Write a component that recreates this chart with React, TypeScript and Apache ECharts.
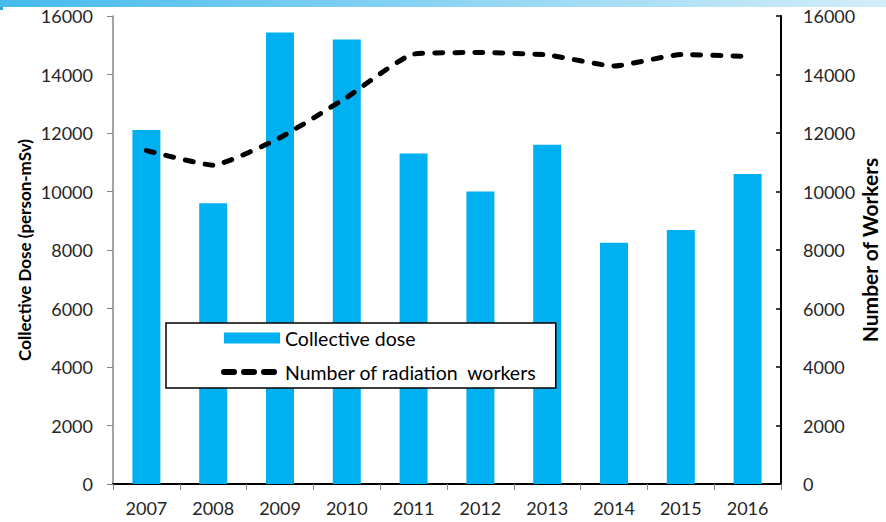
import React, { useEffect, useRef } from "react";
import * as echarts from "echarts";

const years = ["2007", "2008", "2009", "2010", "2011", "2012", "2013", "2014", "2015", "2016"];
const collectiveDose = [12100, 9600, 15440, 15200, 11300, 10000, 11600, 8250, 8680, 10600];
const radiationWorkers = [11400, 10900, 11840, 13220, 14700, 14750, 14670, 14290, 14680, 14620];
const doseName = "Collective dose";
const workersName = "Number of radiation  workers";
const FONT = "Lato";

export default function App() {
  const ref = useRef<HTMLDivElement>(null);
  useEffect(() => {
    if (!ref.current) return;
    const chart = echarts.init(ref.current, null, { renderer: "svg" });
    const labelStyle = { color: "#262626", fontSize: 18, fontFamily: FONT };
    const plain = (v: number) => String(v);
    chart.setOption({
      animation: false,
      backgroundColor: "#ffffff",
      textStyle: { fontFamily: FONT },
      grid: { left: 113, right: 105, top: 16, bottom: 38, containLabel: false, outerBoundsMode: "none" },
      graphic: [
        {
          type: "rect",
          left: 0,
          top: 0,
          shape: { width: 886, height: 7 },
          style: {
            fill: new echarts.graphic.LinearGradient(0, 0, 1, 0, [
              { offset: 0, color: "#45bbec" },
              { offset: 1, color: "#d3edf9" },
            ]),
          },
          silent: true,
        },
        { type: "rect", left: 0, top: 7, shape: { width: 3, height: 3 }, style: { fill: "#2ea6dc" }, silent: true },
      ],
      legend: {
        left: 166,
        top: 323,
        orient: "vertical",
        backgroundColor: "#ffffff",
        borderColor: "#000000",
        borderWidth: 1.5,
        borderRadius: 0,
        padding: [4, 19, 5, 55],
        itemGap: 12,
        itemWidth: 56,
        itemHeight: 11,
        textStyle: { color: "#000000", fontSize: 19.5, fontFamily: FONT, lineHeight: 22 },
        data: [
          { name: doseName, icon: "rect" },
          {
            name: workersName,
            itemStyle: { opacity: 0 },
            lineStyle: { color: "#000000", width: 6, type: [10, 10], cap: "round" },
          },
        ],
        z: 20,
      },
      xAxis: [
        {
          type: "category",
          data: years,
          position: "bottom",
          axisLine: { lineStyle: { color: "#868686", width: 1.5 } },
          axisTick: { show: true, length: 6, lineStyle: { color: "#868686" } },
          axisLabel: { ...labelStyle, margin: 15 },
        },
        {
          type: "category",
          data: years,
          position: "top",
          axisLine: { lineStyle: { color: "#000000", width: 2 } },
          axisTick: { show: false },
          axisLabel: { show: false },
        },
      ],
      yAxis: [
        {
          type: "value",
          min: 0,
          max: 16000,
          interval: 2000,
          position: "left",
          name: "Collective Dose (person-mSv)",
          nameLocation: "middle",
          nameRotate: 90,
          nameGap: 80,
          nameMoveOverlap: false,
          nameTextStyle: { color: "#000000", fontSize: 17, fontWeight: "bold", fontFamily: FONT },
          axisLine: { show: true, lineStyle: { color: "#868686", width: 1.5 } },
          axisTick: { show: true, length: 6, lineStyle: { color: "#868686" } },
          axisLabel: { ...labelStyle, margin: 20, formatter: plain },
          splitLine: { show: false },
        },
        {
          type: "value",
          min: 0,
          max: 16000,
          interval: 2000,
          position: "right",
          name: "Number of Workers",
          nameLocation: "middle",
          nameRotate: 90,
          nameGap: 78,
          nameMoveOverlap: false,
          nameTextStyle: { color: "#000000", fontSize: 21, fontWeight: "bold", fontFamily: FONT },
          axisLine: { show: true, lineStyle: { color: "#000000", width: 2 } },
          axisTick: { show: true, inside: true, length: 5, lineStyle: { color: "#000000", width: 1.5 } },
          axisLabel: { ...labelStyle, margin: 22, formatter: plain },
          splitLine: { show: false },
        },
      ],
      series: [
        {
          name: doseName,
          type: "bar",
          xAxisIndex: 0,
          yAxisIndex: 0,
          data: collectiveDose,
          barWidth: 28,
          itemStyle: { color: "#00b0f0" },
          z: 2,
        },
        {
          name: workersName,
          type: "line",
          xAxisIndex: 0,
          yAxisIndex: 1,
          data: radiationWorkers,
          symbol: "none",
          smooth: 0.15,
          lineStyle: { color: "#000000", width: 5, type: [8, 12], cap: "round", join: "round" },
          itemStyle: { color: "#000000" },
          z: 3,
        },
      ],
    });
    return () => chart.dispose();
  }, []);
  return (
    <div
      ref={ref}
      style={{ position: "fixed", left: 0, top: 0, width: 886, height: 522 }}
    />
  );
}
